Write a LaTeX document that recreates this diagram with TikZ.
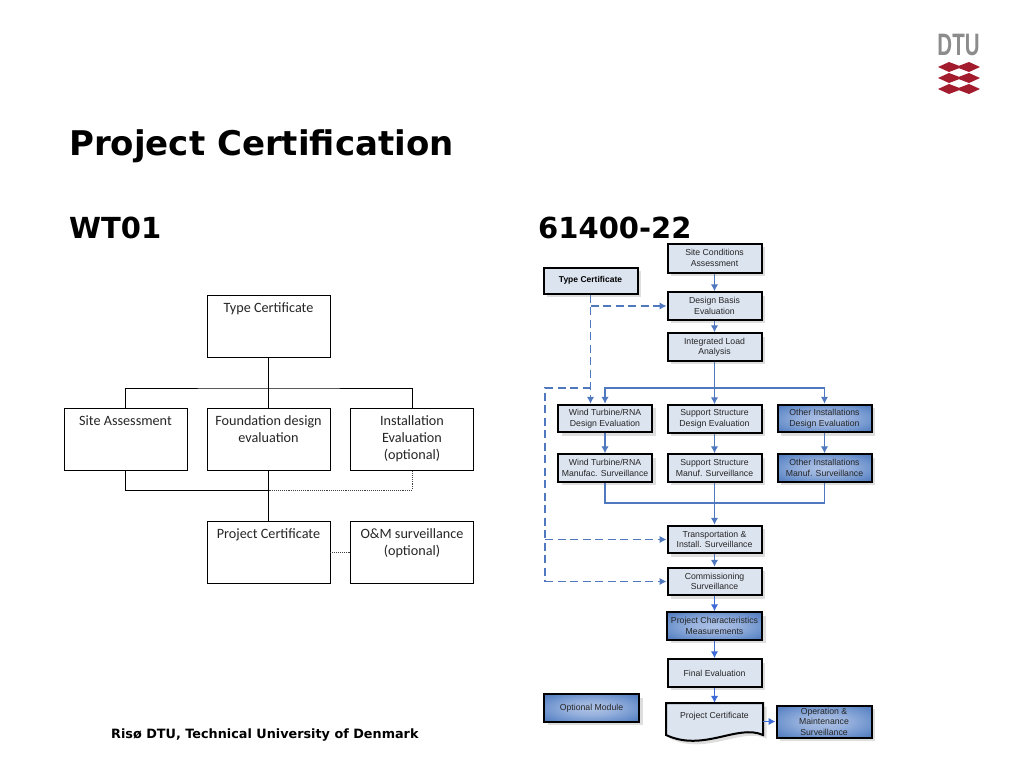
\documentclass[tikz,border=0pt]{standalone}
\usepackage{fontspec}
\setmainfont{Liberation Sans}
\newfontfamily\titlefont{DejaVu Sans}
\newfontfamily\bodyfont{Carlito}
\usetikzlibrary{shadows,arrows.meta,calc}
\definecolor{flow}{HTML}{4F78BE}
\definecolor{flowb}{HTML}{3F6BD6}
\definecolor{lightfill}{HTML}{DCE4F0}
\definecolor{logored}{HTML}{A31C2E}
\definecolor{logogray}{HTML}{8C8C8C}
\pgfdeclareradialshading{boxglow}{\pgfpoint{0bp}{0bp}}{
  rgb(0bp)=(0.68,0.76,0.90);
  rgb(12bp)=(0.60,0.70,0.87);
  rgb(26bp)=(0.42,0.57,0.80);
  rgb(38bp)=(0.27,0.44,0.72);
  rgb(50bp)=(0.22,0.38,0.66);
  rgb(100bp)=(0.22,0.38,0.66)}
\newcommand\lbtext[1]{\parbox[t][50pt][t]{120pt}{\centering\strut #1}}
\tikzset{
  x=1pt,y=-1pt,
  headtext/.style={font=\titlefont\bfseries\fontsize{34}{38}\selectfont,anchor=base west,inner sep=0pt},
  lbox/.style={draw=black,line width=0.9pt,fill=white,minimum width=123pt,minimum height=62pt,inner sep=0pt,anchor=center,font=\bodyfont\fontsize{14.2}{17}\selectfont,text=black!85},
  lline/.style={draw=black,line width=0.9pt},
  ldot/.style={draw=black!75,line width=0.9pt,densely dotted},
  fbase/.style={draw=black,line width=2pt,inner sep=0pt,align=center,minimum width=94pt,minimum height=27.5pt,
    font=\fontsize{8.7}{10.5}\selectfont,text=black!85,
    general shadow={shadow xshift=3.5pt,shadow yshift=-3.5pt,fill=black!13}},
  plainbox/.style={fbase,fill=lightfill},
  darkbox/.style={fbase,shading=boxglow},
  conn/.style={draw=flow,line width=1.3pt,-{Latex[length=7pt,width=7.5pt]}},
  connb/.style={draw=flowb,line width=1.3pt,-{Latex[length=7pt,width=7.5pt]}},
  bus/.style={draw=flow,line width=1.2pt},
  dconn/.style={draw=flow,line width=1.2pt,dash pattern=on 8pt off 4.5pt,-{Latex[length=7pt,width=7.5pt]}},
  dbus/.style={draw=flow,line width=1.2pt,dash pattern=on 8pt off 4.5pt},
}
\begin{document}
\begin{tikzpicture}
\useasboundingbox (0,0) rectangle (1024,768);
% headings
\node[headtext] (title) at (69,155) {Project Certification};
\node[headtext,font=\titlefont\bfseries\fontsize{29}{32}\selectfont] (wt) at (69,238) {WT01};
\node[headtext,font=\titlefont\bfseries\fontsize{29}{32}\selectfont] (iec) at (538,238) {61400-22};
\node[anchor=base west,inner sep=0pt,font=\titlefont\bfseries\fontsize{12.8}{16}\selectfont] (foot) at (111,738.5) {Risø DTU, Technical University of Denmark};
% logo
\node[inner sep=0pt,text=logogray,font=\bfseries\fontsize{31}{32}\selectfont,xscale=0.66,anchor=base] (dtu) at (958.5,56) {DTU};
\foreach \yy in {67,78,89}{
  \fill[logored] (938,\yy) -- (949,\yy-5) -- (959,\yy-1.2) -- (969,\yy-5) -- (980,\yy) -- (969,\yy+5) -- (959,\yy+1.2) -- (949,\yy+5) -- cycle;
}
% left chart
\node[lbox] (ltc) at (268.5,326) {\lbtext{Type Certificate}};
\node[lbox] (lsa) at (125.5,439) {\lbtext{Site Assessment}};
\node[lbox] (lfd) at (268.5,439) {\lbtext{Foundation design\\evaluation}};
\node[lbox] (lie) at (412,439) {\lbtext{Installation\\Evaluation\\(optional)}};
\node[lbox] (lpc) at (268.5,552) {\lbtext{Project Certificate}};
\node[lbox] (lom) at (412,552) {\lbtext{O\&M surveillance\\(optional)}};
\coordinate (ltop) at (268.5,388);
\coordinate (lbot) at (268.5,490);
\draw[lline] (ltc.south) -- (lfd.north);
\draw[lline] (lsa.north) |- (ltop) -| (lie.north);
\draw[lline] (lsa.south) |- (lbot);
\draw[lline] (lfd.south) -- (lpc.north);
\draw[ldot] (lbot) -| (lie.south);
\draw[ldot] (lpc.east) -- (lom.west);
% right chart
\node[plainbox,minimum height=29pt] (sc) at (714.5,258) {Site Conditions\\Assessment};
\node[plainbox,font=\bfseries\fontsize{8.5}{10}\selectfont,text=black,minimum height=26pt] (tc) at (590.5,280.5) {Type Certificate};
\node[plainbox] (db) at (714.5,306) {Design Basis\\Evaluation};
\node[plainbox] (il) at (714.5,347) {Integrated Load\\Analysis};
\node[plainbox] (wd) at (605,418.5) {Wind Turbine/RNA\\Design Evaluation};
\node[plainbox] (sd) at (714.5,419) {Support Structure\\Design Evaluation};
\node[darkbox] (od) at (824.5,418.5) {Other Installations\\Design Evaluation};
\node[plainbox] (wm) at (605,468) {Wind Turbine/RNA\\Manufac. Surveillance};
\node[plainbox] (sm) at (714.5,468) {Support Structure\\Manuf. Surveillance};
\node[darkbox] (om) at (824.5,468) {Other Installations\\Manuf. Surveillance};
\node[plainbox] (ti) at (714.5,539.5) {Transportation \&\\Install. Surveillance};
\node[plainbox] (cs) at (714.5,581.5) {Commissioning\\Surveillance};
\node[darkbox,minimum width=95pt] (pm) at (714.5,626) {Project Characteristics\\Measurements};
\node[plainbox] (fe) at (714.5,673) {Final Evaluation};
\node[darkbox,minimum width=95pt] (omod) at (591.5,708) {Optional Module};
\node[darkbox,minimum width=95pt,minimum height=32pt] (ms) at (824,721.5) {Operation \&\\Maintenance\\Surveillance};
% document outline of the certificate
\fill[black!13] (669.5,706.5) -- (766.5,706.5) -- (766.5,738.5) .. controls (741,727) and (707,756) .. (669.5,738.5) -- cycle;
\draw[fill=lightfill,draw=black,line width=2pt] (666,703) -- (763,703) -- (763,735) .. controls (737.5,723.5) and (703.5,752.5) .. (666,735) -- cycle;
\node[inner sep=0pt,minimum width=97pt,minimum height=27pt,font=\fontsize{8.7}{10.5}\selectfont,text=black!85] (pc) at (714.5,716.5) {Project Certificate};
% flow arrows
\draw[conn] (sc) -- (db);
\draw[conn] (db) -- (il);
\coordinate (busr) at (714.5,388);
\coordinate (dleft) at (545,388);
\coordinate (dtop) at (590.5,388);
\draw[conn] (il) -- (sd);
\draw[conn] (busr) -| (wd.north);
\draw[conn] (busr) -| (od.north);
\draw[conn] (wd) -- (wm);
\draw[conn] (sd) -- (sm);
\draw[conn] (od) -- (om);
\coordinate (merge) at (714.5,503);
\draw[bus] (wm.south) |- (merge) -| (om.south);
\draw[bus] (sm.south) -- (merge);
\draw[conn] (merge) -- (ti.north);
\draw[conn] (ti) -- (cs);
\draw[connb] (cs) -- (pm);
\draw[connb] (pm) -- (fe);
\draw[connb] (fe) -- (pc);
\draw[connb] (pc.east |- ms.west) -- (ms.west);
% dashed
\coordinate (dbranch) at (590.5,306);
\draw[dconn] (tc.south) -- (tc.south |- wd.north);
\draw[dconn] (dbranch) -- (db.west);
\coordinate (dcorner) at (545,581.5);
\coordinate (dmid) at (545,539.5);
\draw[dbus] (dtop) -- (dleft) -- (dcorner);
\draw[dconn] (dcorner) -- (cs.west);
\draw[dconn] (dmid) -- (ti.west);
\end{tikzpicture}
\end{document}
